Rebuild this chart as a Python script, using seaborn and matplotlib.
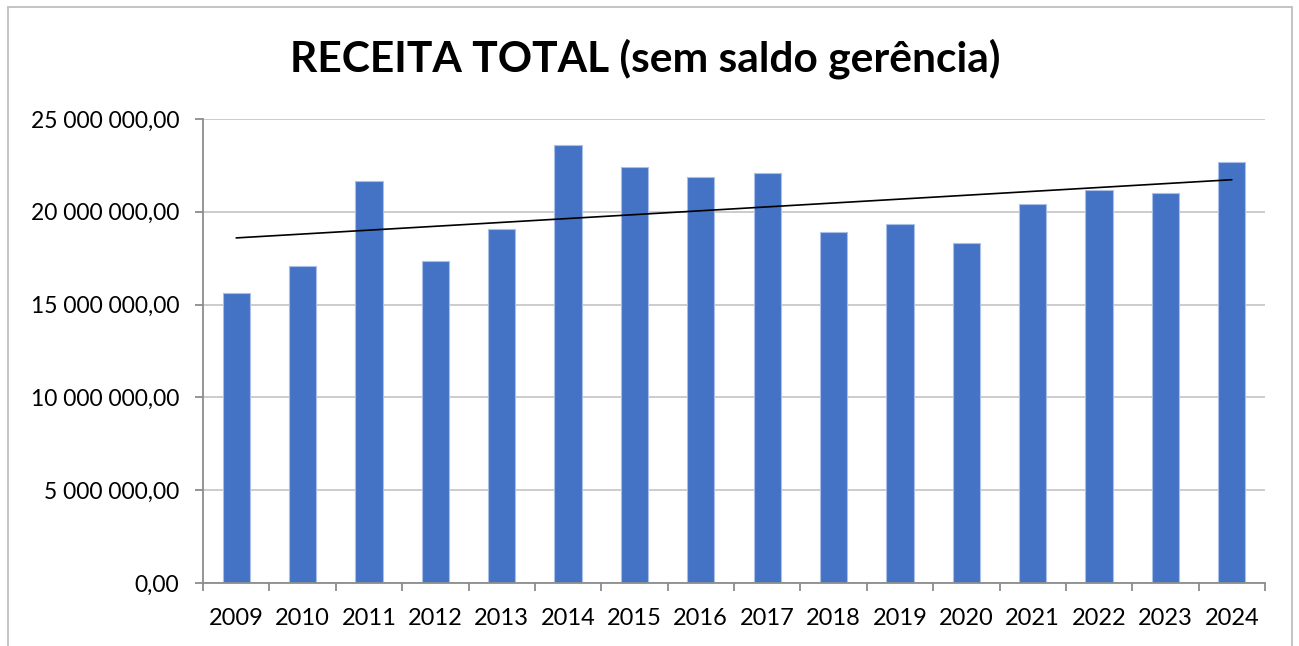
import numpy as np
import pandas as pd
import seaborn as sns
import matplotlib.pyplot as plt
from matplotlib.patches import Rectangle
from matplotlib.ticker import FuncFormatter, FixedLocator

# dados (receita anual, em unidades monetárias)
anos = ["2009", "2010", "2011", "2012", "2013", "2014", "2015", "2016",
        "2017", "2018", "2019", "2020", "2021", "2022", "2023", "2024"]
receita = [15630000, 17060000, 21640000, 17370000, 19070000, 23600000,
           22410000, 21880000, 22090000, 18910000, 19340000, 18320000,
           20420000, 21160000, 21000000, 22670000]
titulo = "RECEITA TOTAL (sem saldo gerência)"
y_ticks = [0, 5000000, 10000000, 15000000, 20000000, 25000000]

sns.set_theme(style="white")
plt.rcParams["font.family"] = ["Lato", "DejaVu Sans"]

df = pd.DataFrame({"ano": anos, "receita": receita})

fig = plt.figure(figsize=(12.99, 6.46), dpi=100)
ax = fig.add_axes([203 / 1299, 1 - 583 / 646, (1265 - 203) / 1299, (583 - 119) / 646])

# grelha horizontal por trás das barras
ax.set_axisbelow(True)
ax.yaxis.grid(True, color="#c8c8c8", linewidth=1.3)
ax.xaxis.grid(False)

sns.barplot(data=df, x="ano", y="receita", color="#4472C4", width=0.41,
            saturation=1, edgecolor="#a9bfe8", linewidth=0.8, ax=ax)

# linha de tendência linear (como no Excel)
sns.regplot(x=np.arange(len(anos)), y=np.array(receita), scatter=False, ci=None,
            truncate=True, color="black", line_kws={"linewidth": 1.2}, ax=ax)

ax.set_xlim(-0.5, len(anos) - 0.5)
ax.set_ylim(0, 25000000)
ax.set_yticks(y_ticks)
ax.yaxis.set_major_formatter(FuncFormatter(
    lambda v, p: f"{v:,.2f}".replace(",", " ").replace(".", ",")))
ax.set_xticks(range(len(anos)))
ax.set_xticklabels(anos)
ax.xaxis.set_minor_locator(FixedLocator(np.arange(-0.5, len(anos), 1.0)))
ax.set_xlabel("")
ax.set_ylabel("")

for lado in ["top", "right"]:
    ax.spines[lado].set_visible(False)
for lado in ["left", "bottom"]:
    ax.spines[lado].set_color("#8c8c8c")
    ax.spines[lado].set_linewidth(1.3)

ax.tick_params(axis="y", which="major", length=6, width=1.3, color="#8c8c8c",
               pad=11, labelsize=16.5, labelcolor="black", left=True)
ax.tick_params(axis="x", which="major", length=0, pad=18, labelsize=17,
               labelcolor="black")
ax.tick_params(axis="x", which="minor", length=6, width=1.3, color="#8c8c8c",
               bottom=True)

fig.text(0.497, 1 - 59 / 646, titulo, ha="center", va="center",
         fontsize=30.6, fontweight="bold", color="black")

# moldura exterior do gráfico
fig.patches.append(Rectangle((8 / 1299, -0.05), (1292 - 8) / 1299, 1.05 - 7 / 646,
                             transform=fig.transFigure, fill=False,
                             edgecolor="#bfbfbf", linewidth=1.3))

fig.savefig("out.png", dpi=100)
